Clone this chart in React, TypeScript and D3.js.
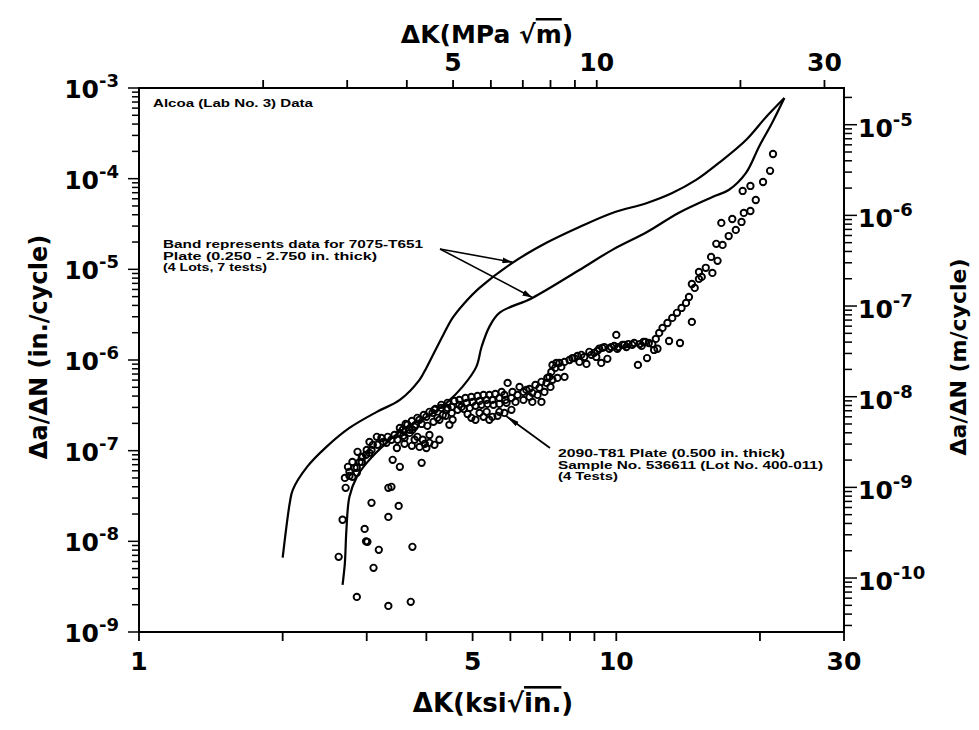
import React from "react";
import * as d3 from "d3";

const W = 979;
const H = 730;

const KSI_TO_MPA = 1.0988; // 1 ksi·√in. = 1.0988 MPa·√m
const IN_TO_M = 0.0254;

// 7075-T651 scatter band – upper (left) boundary: ΔK in ksi√in., da/dN in in./cycle
const bandUpperK = [2.0, 2.07, 2.1, 2.25, 2.47, 2.76, 3.15, 3.52, 3.87, 4.0, 4.18, 4.35, 4.54, 4.79, 5.17, 6.06, 7.14, 8.37, 9.81, 11.6, 13.1, 14.7, 16.4, 18.7, 20.6, 22.5];
const bandUpperRate = [6.6e-9, 2.66e-8, 3.7e-8, 6.62e-8, 1.1e-7, 1.78e-7, 2.68e-7, 3.63e-7, 6.04e-7, 8.18e-7, 1.29e-6, 1.94e-6, 2.91e-6, 4.15e-6, 6.24e-6, 1.18e-5, 1.96e-5, 2.93e-5, 4.19e-5, 5.4e-5, 6.95e-5, 9.68e-5, 1.49e-4, 2.67e-4, 4.79e-4, 7.76e-4];

// 7075-T651 scatter band – lower (right) boundary
const bandLowerK = [2.67, 2.7, 2.72, 2.76, 2.86, 3.0, 3.3, 3.64, 4.01, 4.41, 4.76, 5.09, 5.22, 5.42, 5.69, 6.67, 8.37, 9.81, 11.6, 13.5, 15.9, 17.2, 18.7, 19.9, 21.2, 22.5];
const bandLowerRate = [3.31e-9, 5.79e-9, 1.34e-8, 3.1e-8, 5.14e-8, 7.34e-8, 1.22e-7, 1.83e-7, 2.36e-7, 3.37e-7, 5.05e-7, 8.39e-7, 1.39e-6, 2.32e-6, 3.31e-6, 4.84e-6, 9.84e-6, 1.64e-5, 2.58e-5, 4.19e-5, 6.28e-5, 7.5e-5, 1.16e-4, 2.24e-4, 4.11e-4, 7.76e-4];

// 2090-T81 plate test results (4 tests): ΔK in ksi√in.
const testK = [
  // upper branch
  21.3, 21.0, 20.3, 19.1, 18.4, 19.6, 19.1, 18.5, 17.5, 18.3, 16.6, 17.8, 17.2, 16.7, 16.2, 15.8, 16.3, 15.4, 14.9, 15.9,
  15.1, 14.9, 14.4, 14.6, 14.2, 14.0, 13.7, 13.4, 13.1, 12.8, 14.4, 12.5, 12.3, 12.1, 10.0, 12.9, 13.6, 12.2, 11.7, 11.2,
  10.6, 10.1, 9.67, 9.21, 8.99, 11.6, 11.1, 9.58, 9.3, 7.6, 7.35, 8.66, 7.98, 8.29, 9.44, 9.9, 10.4, 10.9, 11.4, 8.78,
  8.45, 8.09, 9.13, 9.35, 9.76, 10.05, 10.3, 10.5, 10.8, 11.3, 11.5, 11.9, 12.0, 7.79, 8.17, 8.37, 8.57, 8.87, 9.08,
  // mid range
  2.76, 2.86, 2.74, 2.8, 2.93, 2.87, 3.0, 3.09, 3.04, 3.22, 3.15, 3.38, 3.47, 3.57, 3.65, 3.74, 3.83, 3.93, 4.06, 4.16,
  4.0, 3.87, 3.78, 3.87, 4.0, 4.12, 4.22, 4.33, 4.41, 4.47, 4.54, 4.52, 4.69, 4.86, 5.0, 5.17, 5.35, 5.5, 5.69, 4.97,
  5.17, 5.35, 5.5, 5.69, 5.83, 5.92, 5.89, 6.06, 6.27, 6.48, 6.67, 6.9, 6.67, 6.97, 7.14, 7.24, 7.49, 7.67, 7.79, 7.35,
  4.16, 4.3, 4.43, 3.69, 3.6, 3.52, 4.06, 3.3, 2.94, 3.04, 2.9, 2.86, 2.8,
  2.7, 2.76, 2.83, 2.93, 2.99, 3.07, 3.16, 3.25, 3.32, 3.43,
  3.52, 3.62, 3.73, 3.83, 3.95, 4.06, 4.18, 4.3, 4.43, 4.58,
  3.48, 3.58, 3.69, 3.8, 3.91, 4.02, 4.14, 4.26, 4.39, 4.52, 4.65, 4.79,
  3.6, 3.73, 3.97, 4.26, 3.78,
  4.69, 4.83, 4.97, 5.12, 5.27, 5.42, 5.58, 5.75,
  4.74, 4.93, 5.07, 5.22, 5.37, 5.53, 5.69, 5.86,
  4.88, 5.07, 5.27, 5.42, 5.64, 5.83, 6.03,
  6.03, 6.21, 6.39, 6.58, 6.77, 6.97, 7.17, 7.31, 7.45, 6.15, 6.39, 6.58, 6.84, 7.07, 7.28, 7.53,
  // threshold region
  3.91, 3.52, 3.4, 3.38, 3.33, 2.71, 3.07, 3.5, 3.33, 2.67, 2.97, 3.01, 2.99, 3.18, 3.74, 2.62, 3.1, 2.86, 3.33, 3.71,
];
// matching da/dN values in in./cycle
const testRate = [
  1.87e-4, 1.22e-4, 9.19e-5, 8.31e-5, 7.32e-5, 5.82e-5, 4.4e-5, 4.19e-5, 3.59e-5, 3.33e-5, 3.25e-5, 2.72e-5, 2.33e-5, 1.86e-5, 1.91e-5, 1.37e-5, 1.24e-5, 1.04e-5, 9.36e-6, 9.13e-6,
  8.25e-6, 7.84e-6, 6.9e-6, 6.24e-6, 4.96e-6, 4.26e-6, 3.75e-6, 3.31e-6, 2.91e-6, 2.56e-6, 2.63e-6, 2.26e-6, 1.99e-6, 1.71e-6, 1.89e-6, 1.62e-6, 1.54e-6, 1.33e-6, 1.54e-6, 1.5e-6,
  1.5e-6, 1.39e-6, 1.33e-6, 1.33e-6, 1.2e-6, 1.05e-6, 8.83e-7, 1.03e-6, 9.29e-7, 9.29e-7, 8.83e-7, 9.06e-7, 1.0e-6, 1.11e-6, 1.39e-6, 1.43e-6, 1.47e-6, 1.54e-6, 1.58e-6, 1.23e-6,
  1.14e-6, 1.05e-6, 1.26e-6, 1.36e-6, 1.39e-6, 1.33e-6, 1.47e-6, 1.39e-6, 1.47e-6, 1.43e-6, 1.58e-6, 1.5e-6, 1.29e-6, 9.53e-7, 1.05e-6, 9.53e-7, 1.08e-6, 1.14e-6, 1.08e-6,
  5.84e-8, 6.46e-8, 6.63e-8, 7.52e-8, 8.54e-8, 9.7e-8, 1.02e-7, 1.16e-7, 1.25e-7, 1.38e-7, 1.42e-7, 1.32e-7, 1.07e-7, 1.7e-7, 1.93e-7, 1.7e-7, 1.42e-7, 1.32e-7, 1.22e-7, 1.16e-7,
  1.07e-7, 1.1e-7, 1.83e-7, 2.19e-7, 2.36e-7, 2.61e-7, 2.3e-7, 2.48e-7, 2.82e-7, 1.93e-7, 2.19e-7, 3.04e-7, 3.2e-7, 3.37e-7, 3.45e-7, 3.54e-7, 3.63e-7, 3.63e-7, 3.82e-7, 2.3e-7,
  2.61e-7, 2.68e-7, 2.36e-7, 2.68e-7, 4.12e-7, 5.59e-7, 3.37e-7, 4.45e-7, 5.05e-7, 4.68e-7, 4.34e-7, 4.93e-7, 3.45e-7, 3.45e-7, 5.59e-7, 6.51e-7, 9.29e-7, 8.39e-7, 6.51e-7, 6.04e-7,
  2.82e-7, 2.96e-7, 2.96e-7, 1.57e-7, 1.38e-7, 1.57e-7, 1.49e-7, 1.22e-7, 8.54e-8, 9.46e-8, 7.52e-8, 5.69e-8, 5.14e-8,
  5.01e-8, 5.27e-8, 6.46e-8, 7.52e-8, 8.99e-8, 1.02e-7, 1.16e-7, 1.25e-7, 1.42e-7, 1.49e-7,
  1.78e-7, 1.97e-7, 2.13e-7, 2.3e-7, 2.48e-7, 2.68e-7, 2.89e-7, 3.2e-7, 3.37e-7, 3.54e-7,
  1.32e-7, 1.46e-7, 1.7e-7, 1.93e-7, 1.97e-7, 1.88e-7, 2.08e-7, 2.19e-7, 2.42e-7, 2.61e-7, 2.82e-7, 2.89e-7,
  1.19e-7, 1.13e-7, 1.19e-7, 1.32e-7, 1.32e-7,
  3.63e-7, 3.82e-7, 3.92e-7, 4.02e-7, 4.12e-7, 4.12e-7, 4.23e-7, 4.45e-7,
  3.04e-7, 2.96e-7, 3.12e-7, 3.2e-7, 3.28e-7, 3.2e-7, 3.28e-7, 3.63e-7,
  2.54e-7, 2.19e-7, 2.36e-7, 2.19e-7, 2.42e-7, 2.61e-7, 2.82e-7,
  3.82e-7, 4.12e-7, 4.45e-7, 4.8e-7, 5.31e-7, 5.74e-7, 6.35e-7, 7.39e-7, 8.18e-7, 3.45e-7, 3.63e-7, 3.92e-7, 4.12e-7, 4.45e-7, 5.05e-7, 6.35e-7,
  7.34e-8, 6.63e-8, 7.92e-8, 3.99e-8, 3.89e-8, 3.89e-8, 2.66e-8, 2.46e-8, 1.86e-8, 1.73e-8, 1.37e-8, 9.87e-9, 1.0e-8, 8.06e-9, 8.7e-9, 6.75e-9, 5.1e-9, 2.44e-9, 1.94e-9, 2.15e-9,
];

// axis ticks
const bottomTicks = [1, 2, 3, 4, 5, 6, 7, 8, 9, 10, 20, 30];
const bottomLabels = [1, 5, 10, 30];
const topTicks = [2, 3, 4, 5, 6, 7, 8, 9, 10, 20, 30];
const topLabels = [5, 10, 30];
const leftExponents = [-3, -4, -5, -6, -7, -8, -9];
const rightExponents = [-5, -6, -7, -8, -9, -10];

// annotation anchors (ΔK ksi√in., da/dN in./cycle)
const bandArrowTips = [
  [6.06, 1.2e-5],
  [6.67, 4.9e-6],
];
const testArrowTip = [5.87, 2.42e-7];

const bandNote = [
  "Band represents data for 7075-T651",
  "Plate (0.250 - 2.750 in. thick)",
  "(4 Lots, 7 tests)",
];
const bandNoteWidths = [260, 214, 104];
const testNote = [
  "2090-T81 Plate (0.500 in. thick)",
  "Sample No. 536611 (Lot No. 400-011)",
  "(4 Tests)",
];
const testNoteWidths = [227, 265, 60];

const FONT = "'DejaVu Sans', Verdana, sans-serif";
const NOTE_FONT = "'Liberation Sans', Arial, Helvetica, sans-serif";

function logTicks(lo: number, hi: number) {
  const out: { v: number; major: boolean }[] = [];
  for (let k = Math.floor(Math.log10(lo)) - 1; k <= Math.ceil(Math.log10(hi)); k++) {
    for (let m = 1; m <= 9; m++) {
      const v = m * Math.pow(10, k);
      if (v >= lo * 0.9999 && v <= hi * 1.0001) out.push({ v, major: m === 1 });
    }
  }
  return out;
}

export default function App() {
  const x = d3.scaleLog().domain([1, 30]).range([139, 844]);
  const y = d3.scaleLog().domain([1e-9, 1e-3]).range([632, 88]);
  const xTop = d3.scaleLog().domain([1 * KSI_TO_MPA, 30 * KSI_TO_MPA]).range([139, 844]);
  const yRight = d3.scaleLog().domain([1e-9 * IN_TO_M, 1e-3 * IN_TO_M]).range([632, 88]);

  const [x0, x1] = x.range();
  const [yb, yt] = y.range();

  const line = d3
    .line<[number, number]>()
    .x((d) => x(d[0]))
    .y((d) => y(d[1]))
    .curve(d3.curveCatmullRom.alpha(0.5));

  const upper = line(bandUpperK.map((k, i) => [k, bandUpperRate[i]]));
  const lower = line(bandLowerK.map((k, i) => [k, bandLowerRate[i]]));

  const leftTicks = logTicks(1e-9, 1e-3);
  const rightTicks = logTicks(1e-9 * IN_TO_M, 1e-3 * IN_TO_M);

  const bandTail = [440, 249];
  const testTail = [550, 448];

  return (
    <svg width={W} height={H} style={{ display: "block", position: "absolute", left: 0, top: 0, background: "#fff" }}>
      <defs>
        <marker id="headSmall" viewBox="0 0 10 6" refX="10" refY="3" markerWidth="10" markerHeight="6" markerUnits="userSpaceOnUse" orient="auto">
          <path d="M0,0 L10,3 L0,6 Z" fill="#000" />
        </marker>
        <marker id="headLong" viewBox="0 0 14 6" refX="14" refY="3" markerWidth="14" markerHeight="6" markerUnits="userSpaceOnUse" orient="auto">
          <path d="M0,0.5 L14,3 L0,5.5 Z" fill="#000" />
        </marker>
      </defs>
      <rect width={W} height={H} fill="#fff" />

      {/* frame */}
      <rect x={x0} y={yt} width={x1 - x0} height={yb - yt} fill="none" stroke="#000" strokeWidth={2} />

      {/* bottom axis */}
      {bottomTicks.map((t) => (
        <line key={"bt" + t} x1={x(t)} x2={x(t)} y1={yb} y2={yb + 9} stroke="#000" strokeWidth={1.8} />
      ))}
      {bottomLabels.map((t) => (
        <text key={"bl" + t} x={x(t)} y={670} textAnchor="middle" fontFamily={FONT} fontWeight="bold" fontSize={25}>
          {t}
        </text>
      ))}
      <text x={493} y={712} textAnchor="middle" fontFamily={FONT} fontWeight="bold" fontSize={26}>
        ΔK(ksi<tspan>√</tspan>
        <tspan style={{ textDecoration: "overline" }}>in.</tspan>)
      </text>

      {/* top axis (MPa√m) */}
      {topTicks.map((t) => (
        <line key={"tt" + t} x1={xTop(t)} x2={xTop(t)} y1={yt} y2={yt - 8} stroke="#000" strokeWidth={1.8} />
      ))}
      {topLabels.map((t) => (
        <text key={"tl" + t} x={xTop(t)} y={71} textAnchor="middle" fontFamily={FONT} fontWeight="bold" fontSize={25}>
          {t}
        </text>
      ))}
      <text x={487} y={43} textAnchor="middle" fontFamily={FONT} fontWeight="bold" fontSize={25}>
        ΔK(MPa <tspan>√</tspan>
        <tspan style={{ textDecoration: "overline" }}>m</tspan>)
      </text>

      {/* left axis (in./cycle) */}
      {leftTicks.map((t, i) => (
        <line key={"lt" + i} x1={x0} x2={x0 - (t.major ? 11 : 7)} y1={y(t.v)} y2={y(t.v)} stroke="#000" strokeWidth={1.5} />
      ))}
      {leftExponents.map((e) => (
        <text key={"ll" + e} x={119} y={y(Math.pow(10, e)) + 10} textAnchor="end" fontFamily={FONT} fontWeight="bold" fontSize={25}>
          10
          <tspan dy={-11} fontSize={18}>
            {"-" + Math.abs(e)}
          </tspan>
        </text>
      ))}
      <text transform={`translate(47,347) rotate(-90)`} textAnchor="middle" fontFamily={FONT} fontWeight="bold" fontSize={24}>
        Δa/ΔN (in./cycle)
      </text>

      {/* right axis (m/cycle) */}
      {rightTicks.map((t, i) => (
        <line key={"rt" + i} x1={x1} x2={x1 + (t.major ? 13 : 8)} y1={yRight(t.v)} y2={yRight(t.v)} stroke="#000" strokeWidth={1.5} />
      ))}
      {rightExponents.map((e) => (
        <text key={"rl" + e} x={858} y={yRight(Math.pow(10, e)) + 12} textAnchor="start" fontFamily={FONT} fontWeight="bold" fontSize={25}>
          10
          <tspan dy={-11} fontSize={18}>
            {"-" + Math.abs(e)}
          </tspan>
        </text>
      ))}
      <text transform={`translate(966,357) rotate(-90)`} textAnchor="middle" fontFamily={FONT} fontWeight="bold" fontSize={22}>
        Δa/ΔN (m/cycle)
      </text>

      {/* 7075-T651 band */}
      <path d={upper || ""} fill="none" stroke="#000" strokeWidth={2.2} strokeLinejoin="round" />
      <path d={lower || ""} fill="none" stroke="#000" strokeWidth={2.2} strokeLinejoin="round" />

      {/* 2090-T81 data */}
      <g fill="none" stroke="#000" strokeWidth={1.9}>
        {testK.map((k, i) => (
          <circle key={"p" + i} cx={x(k)} cy={y(testRate[i])} r={3.2} />
        ))}
      </g>

      {/* annotations */}
      <text x={153} y={107} fontFamily={NOTE_FONT} fontWeight="bold" fontSize={11} textLength={160} lengthAdjust="spacingAndGlyphs">
        Alcoa (Lab No. 3) Data
      </text>
      {bandNote.map((s, i) => (
        <text key={"bn" + i} x={163} y={248 + i * 11.5} fontFamily={NOTE_FONT} fontWeight="bold" fontSize={11} textLength={bandNoteWidths[i]} lengthAdjust="spacingAndGlyphs">
          {s}
        </text>
      ))}
      {bandArrowTips.map((p, i) => (
        <line
          key={"ba" + i}
          x1={bandTail[0]}
          y1={bandTail[1]}
          x2={x(p[0])}
          y2={y(p[1])}
          stroke="#000"
          strokeWidth={1.6}
          markerEnd="url(#headSmall)"
        />
      ))}
      {testNote.map((s, i) => (
        <text key={"tn" + i} x={558} y={457 + i * 11.5} fontFamily={NOTE_FONT} fontWeight="bold" fontSize={11} textLength={testNoteWidths[i]} lengthAdjust="spacingAndGlyphs">
          {s}
        </text>
      ))}
      <line
        x1={testTail[0]}
        y1={testTail[1]}
        x2={x(testArrowTip[0])}
        y2={y(testArrowTip[1])}
        stroke="#000"
        strokeWidth={1.8}
        markerEnd="url(#headLong)"
      />
    </svg>
  );
}
